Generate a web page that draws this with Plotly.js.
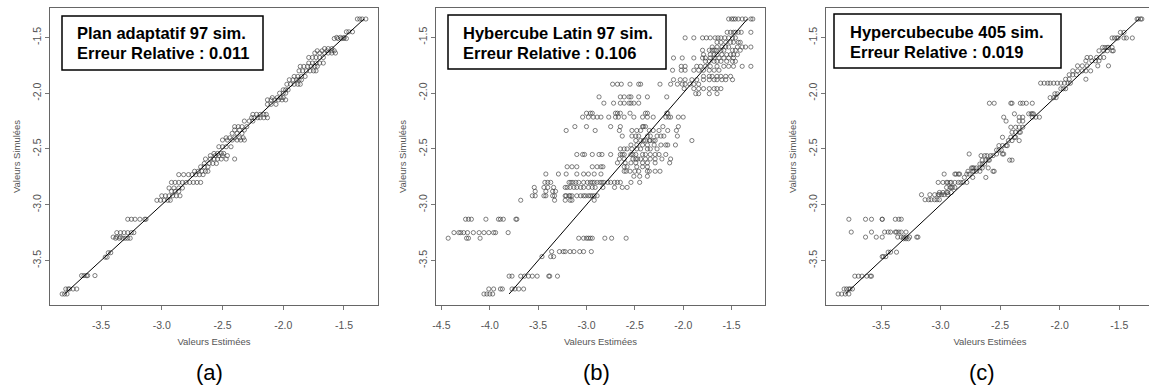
<!DOCTYPE html>
<html><head><meta charset="utf-8">
<script src="https://cdn.plot.ly/plotly-3.0.1.min.js"></script>
<style>html,body{margin:0;padding:0;overflow:hidden;background:#fff}#chart{width:1160px;height:388px}</style>
</head><body><div id="chart"></div>
<script>
// ---------- DATA ----------
// Panel (a): Plan adaptatif 97 sim. — simulated levels and estimated values at each level
const simA = [-3.80,-3.755,-3.635,-3.47,-3.43,-3.30,-3.29,-3.25,-3.13,-2.96,-2.92,-2.88,-2.85,-2.80,-2.73,-2.70,-2.66,-2.63,-2.59,-2.56,-2.54,-2.48,-2.42,-2.40,-2.36,-2.33,-2.30,-2.25,-2.22,-2.19,-2.10,-2.06,-2.04,-2.00,-1.97,-1.92,-1.88,-1.85,-1.80,-1.76,-1.73,-1.68,-1.64,-1.62,-1.60,-1.51,-1.50,-1.45,-1.335];
const estA = [
 [-3.82,-3.80,-3.78],
 [-3.79,-3.77,-3.76,-3.73,-3.70],
 [-3.66,-3.64,-3.62,-3.61,-3.55],
 [-3.465,-3.45],
 [-3.44,-3.42],
 [-3.38,-3.35,-3.32,-3.30,-3.28,-3.26],
 [-3.40,-3.37,-3.34],
 [-3.37,-3.34,-3.31,-3.28,-3.25,-3.23],
 [-3.28,-3.25,-3.22,-3.18,-3.14,-3.13],
 [-3.04,-3.01,-2.98,-2.95,-2.93],
 [-3.00,-2.97,-2.94,-2.91,-2.88,-2.85],
 [-2.92,-2.89,-2.86],
 [-2.94,-2.90,-2.86,-2.83],
 [-2.92,-2.89,-2.86,-2.83,-2.80,-2.77,-2.74,-2.71,-2.68],
 [-2.86,-2.82,-2.78,-2.75,-2.72,-2.69,-2.66],
 [-2.73,-2.70,-2.67,-2.64,-2.62],
 [-2.68,-2.65,-2.62],
 [-2.65,-2.61,-2.58,-2.55],
 [-2.64,-2.60,-2.57,-2.54,-2.51,-2.47,-2.40],
 [-2.60,-2.56,-2.53,-2.50,-2.46],
 [-2.57,-2.54,-2.51,-2.49],
 [-2.53,-2.50,-2.47,-2.43],
 [-2.50,-2.46,-2.42,-2.38,-2.35,-2.32],
 [-2.47,-2.44,-2.40,-2.36,-2.33],
 [-2.42,-2.38,-2.34],
 [-2.40,-2.36,-2.32],
 [-2.40,-2.37,-2.34,-2.30],
 [-2.32,-2.28,-2.25],
 [-2.26,-2.24,-2.21,-2.19,-2.16,-2.13],
 [-2.25,-2.22,-2.19,-2.16,-2.14],
 [-2.13,-2.10,-2.06],
 [-2.13,-2.10,-2.07,-2.04,-2.01,-1.98],
 [-2.09,-2.05,-2.02,-2.00],
 [-2.03,-2.00,-1.98],
 [-2.00,-1.98,-1.96],
 [-1.97,-1.94,-1.91,-1.88,-1.86],
 [-1.95,-1.92,-1.89,-1.87,-1.85],
 [-1.91,-1.88,-1.85,-1.82],
 [-1.87,-1.84,-1.81,-1.78,-1.75,-1.73],
 [-1.86,-1.83,-1.80,-1.77,-1.74,-1.72],
 [-1.79,-1.76,-1.73,-1.70,-1.67],
 [-1.79,-1.76,-1.73,-1.70,-1.67],
 [-1.74,-1.70,-1.66,-1.63,-1.60,-1.57],
 [-1.72,-1.68,-1.64,-1.60,-1.58],
 [-1.66,-1.63,-1.60],
 [-1.58,-1.55,-1.52,-1.50,-1.48],
 [-1.56,-1.53,-1.50],
 [-1.48,-1.46,-1.43],
 [-1.39,-1.37,-1.35,-1.32]
];

// Panel (b): Hybercube Latin 97 sim.
const simB = [-1.336,-1.455,-1.505,-1.545,-1.587,-1.616,-1.655,-1.685,-1.715,-1.76,-1.795,-1.85,-1.88,-1.92,-1.96,-2.005,-2.034,-2.09,-2.18,-2.215,-2.30,-2.335,-2.385,-2.425,-2.465,-2.50,-2.55,-2.59,-2.625,-2.66,-2.70,-2.725,-2.745,-2.80,-2.845,-2.88,-2.92,-2.96,-3.13,-3.25,-3.30,-3.42,-3.465,-3.64,-3.755,-3.80];
const estB = [
 [-1.53,-1.50,-1.48,-1.46,-1.43,-1.39,-1.355,-1.30,-1.28],
 [-1.545,-1.51,-1.48,-1.46,-1.43,-1.40,-1.30],
 [-1.98,-1.89,-1.80,-1.76,-1.72,-1.67,-1.64,-1.61,-1.57,-1.53,-1.49,-1.46],
 [-1.65,-1.61,-1.56,-1.51,-1.48,-1.43,-1.41],
 [-1.70,-1.65,-1.60,-1.56,-1.53,-1.44,-1.39,-1.355,-1.30],
 [-1.80,-1.73,-1.70,-1.68,-1.66,-1.61,-1.58,-1.49,-1.46,-1.41],
 [-1.79,-1.72,-1.68,-1.65,-1.60,-1.55,-1.51,-1.48,-1.44],
 [-2.10,-2.01,-1.89,-1.80,-1.77,-1.72,-1.68,-1.63,-1.58,-1.53,-1.48],
 [-1.77,-1.73,-1.68,-1.65,-1.61,-1.55,-1.49,-1.46],
 [-2.02,-1.98,-1.86,-1.82,-1.77,-1.72,-1.65,-1.58,-1.53,-1.48,-1.39,-1.30],
 [-2.11,-2.02,-1.98,-1.89,-1.84,-1.79,-1.73,-1.68,-1.63],
 [-1.79,-1.73,-1.70,-1.65,-1.61,-1.56,-1.51],
 [-2.10,-2.03,-1.98,-1.91,-1.86,-1.79,-1.73,-1.68,-1.65,-1.60,-1.56,-1.49],
 [-2.73,-2.68,-2.64,-2.55,-2.46,-2.44,-2.24,-2.13,-2.06,-2.01,-1.98,-1.93,-1.89,-1.84],
 [-1.99,-1.89,-1.84,-1.79,-1.73,-1.68,-1.65,-1.61],
 [-1.87,-1.84,-1.73,-1.65],
 [-2.87,-2.65,-2.61,-2.56,-2.54,-2.46,-2.37,-2.17],
 [-2.82,-2.72,-2.65,-2.61,-2.56,-2.54,-2.51,-2.46],
 [-3.00,-2.96,-2.94,-2.70,-2.68,-2.65,-2.55,-2.39,-2.37,-2.17,-2.16],
 [-3.04,-2.98,-2.93,-2.89,-2.85,-2.77,-2.70,-2.67,-2.61,-2.51,-2.42,-2.37,-2.31,-2.18,-2.15,-2.13,-2.05,-2.00],
 [-3.12,-3.00,-2.75,-2.65,-2.42,-2.41,-2.39,-2.21,-2.05],
 [-3.21,-2.91,-2.66,-2.53,-2.48,-2.44,-2.35,-2.31,-2.25,-2.16,-2.07],
 [-2.63,-2.53,-2.49,-2.46,-2.37,-2.34,-2.27,-2.23,-2.20,-2.06],
 [-2.49,-2.44,-2.41,-2.39,-2.35,-2.34,-2.31,-2.29,-1.91],
 [-2.54,-2.48,-2.42,-2.37,-2.30,-2.23,-2.18,-2.16,-2.08],
 [-2.65,-2.61,-2.58,-2.53,-2.48,-2.44,-2.37,-2.34,-2.27],
 [-3.10,-3.04,-3.02,-2.94,-2.87,-2.84,-2.75,-2.65,-2.63,-2.61,-2.54,-2.52,-2.49,-2.42,-2.39,-2.34,-2.29,-2.25,-2.18],
 [-2.66,-2.61,-2.52,-2.49,-2.47,-2.44,-2.39,-2.34,-2.29,-2.22,-2.13],
 [-2.68,-2.60,-2.54,-2.49,-2.42,-2.37,-2.29,-2.14],
 [-3.20,-3.15,-3.10,-2.94,-2.89,-2.85,-2.83,-2.61,-2.58,-2.48,-2.42,-2.37],
 [-2.61,-2.59,-2.55,-2.50,-2.46,-2.37,-2.35,-2.29,-2.24],
 [-3.42,-3.29,-3.21,-3.10,-3.03,-2.98,-2.92,-2.85],
 [-2.51,-2.45,-2.37],
 [-3.43,-3.40,-3.37,-3.18,-3.16,-3.14,-3.11,-3.08,-3.03,-2.99,-2.96,-2.94,-2.92,-2.89,-2.86,-2.84,-2.82,-2.78,-2.75,-2.71,-2.68,-2.65,-2.54,-2.45],
 [-3.54,-3.44,-3.40,-3.34,-3.22,-3.20,-3.17,-3.13,-3.10,-3.06,-3.03,-2.98,-2.94,-2.91,-2.83,-2.71,-2.63,-2.58],
 [-3.53,-3.42,-3.35,-3.32],
 [-3.56,-3.53,-3.44,-3.42,-3.35,-3.33,-3.22,-3.21,-3.18,-3.17,-3.15,-3.10,-3.06,-3.03,-3.01,-2.98,-2.96,-2.94,-2.92,-2.89],
 [-3.68,-3.33,-3.22,-3.17,-3.15,-2.92],
 [-4.25,-4.22,-4.19,-4.04,-3.91,-3.89,-3.86,-3.73,-3.72],
 [-4.37,-4.32,-4.30,-4.27,-4.23,-4.17,-4.11,-4.06,-4.01,-3.96,-3.94,-3.81],
 [-4.43,-4.24,-4.22,-4.10,-3.08,-3.03,-3.00,-2.98,-2.96,-2.94,-2.81,-2.74,-2.59],
 [-3.36,-3.28,-3.24,-3.22,-3.17,-3.13,-3.07,-3.03,-2.95],
 [-3.46,-3.37,-3.34],
 [-3.80,-3.77,-3.68,-3.64,-3.60,-3.56,-3.51,-3.39,-3.38,-3.30],
 [-4.01,-3.96,-3.89,-3.87,-3.77,-3.74,-3.70,-3.65],
 [-4.06,-4.03,-4.00,-3.97]
];

// Panel (c): Hypercubecube 405 sim.
const simC = [-1.335,-1.455,-1.505,-1.59,-1.62,-1.68,-1.71,-1.755,-1.80,-1.835,-1.875,-1.91,-1.96,-2.005,-2.04,-2.09,-2.185,-2.215,-2.25,-2.305,-2.35,-2.395,-2.425,-2.47,-2.51,-2.545,-2.56,-2.60,-2.635,-2.67,-2.70,-2.725,-2.755,-2.80,-2.845,-2.89,-2.91,-2.955,-3.13,-3.245,-3.29,-3.305,-3.425,-3.465,-3.64,-3.755,-3.80];
const estC = [
 [-1.35,-1.34,-1.32,-1.31],
 [-1.49,-1.46],
 [-1.56,-1.54,-1.52,-1.51,-1.46,-1.44,-1.39],
 [-1.64,-1.62,-1.60,-1.59,-1.56],
 [-1.67,-1.63,-1.60,-1.56,-1.55],
 [-1.77,-1.74,-1.69,-1.66,-1.63],
 [-1.78,-1.73,-1.70,-1.67],
 [-1.85,-1.81,-1.77,-1.68,-1.59],
 [-1.89,-1.85,-1.81,-1.78,-1.74],
 [-1.92,-1.89,-1.86],
 [-1.95,-1.92,-1.78],
 [-2.16,-2.13,-2.10,-2.08,-2.05,-2.02,-1.99,-1.96,-1.93,-1.91],
 [-1.99,-1.97,-1.95],
 [-2.04,-2.02],
 [-2.08,-2.05,-2.03],
 [-2.59,-2.55,-2.41,-2.40,-2.33,-2.31,-2.28,-2.23],
 [-2.38,-2.26,-2.24,-2.23,-2.22],
 [-2.47,-2.34,-2.31,-2.23,-2.20,-2.17],
 [-2.45,-2.34,-2.31],
 [-2.41,-2.37,-2.34,-2.31],
 [-2.40,-2.37,-2.34,-2.33],
 [-2.48,-2.41,-2.38,-2.37],
 [-2.43,-2.40,-2.34],
 [-2.51,-2.48,-2.45,-2.44],
 [-2.53,-2.51,-2.49],
 [-2.76,-2.53,-2.48,-2.47],
 [-2.66,-2.63,-2.61,-2.58,-2.56],
 [-2.65,-2.62,-2.60,-2.59,-2.42,-2.40],
 [-2.67,-2.65,-2.63],
 [-2.74,-2.73,-2.72,-2.70,-2.67,-2.65,-2.60],
 [-2.77,-2.73,-2.72,-2.70,-2.67,-2.56,-2.55],
 [-2.97,-2.88,-2.87,-2.85,-2.84,-2.78,-2.76],
 [-2.80,-2.73,-2.62],
 [-3.02,-2.98,-2.95,-2.94,-2.92,-2.91,-2.88,-2.85,-2.83,-2.81,-2.78],
 [-2.95,-2.92,-2.91,-2.90,-2.88],
 [-3.01,-2.98,-2.95,-2.94,-2.91],
 [-3.16,-3.09,-3.05,-3.02,-3.01,-2.99,-2.97,-2.94],
 [-3.13,-3.10,-3.08,-3.05,-3.03,-3.01],
 [-3.77,-3.63,-3.58,-3.49,-3.49,-3.38,-3.35,-3.33],
 [-3.75,-3.58,-3.47,-3.44,-3.42,-3.38,-3.37,-3.35,-3.33,-3.29],
 [-3.63,-3.54,-3.49,-3.36,-3.33,-3.31,-3.29,-3.26,-3.20,-3.19],
 [-3.31,-3.29,-3.27],
 [-3.44,-3.42,-3.37],
 [-3.49,-3.48,-3.46],
 [-3.72,-3.69,-3.66,-3.62,-3.59,-3.58],
 [-3.81,-3.79,-3.77,-3.76,-3.74],
 [-3.86,-3.83,-3.80,-3.77]
];

const ticksA = [-3.5,-3.0,-2.5,-2.0,-1.5];
const ticksB = [-4.5,-4.0,-3.5,-3.0,-2.5,-2.0,-1.5];
const ticksC = [-3.5,-3.0,-2.5,-2.0,-1.5];
const ticksY = [-3.5,-3.0,-2.5,-2.0,-1.5];

const boxLine1 = ['Plan adaptatif 97 sim.','Hybercube Latin 97 sim.','Hypercubecube 405 sim.'];
const boxLine2 = ['Erreur Relative : 0.011','Erreur Relative : 0.106','Erreur Relative : 0.019'];
const panelLabels = ['(a)','(b)','(c)'];
const xTitle = 'Valeurs Estimées';
const yTitle = 'Valeurs Simulées';

// ---------- BUILD ----------
const W = 1160, H = 388;
function flatten(sim, est){
  const x=[], y=[];
  sim.forEach((s,i)=>est[i].forEach(v=>{x.push(v);y.push(s);}));
  return {x,y};
}
function rng(arr){ const mn=Math.min(...arr), mx=Math.max(...arr), p=0.04*(mx-mn); return [mn-p, mx+p]; }

const panels = [
  {sim:simA, est:estA, ticks:ticksA, px:[50,378], box:[62,263,16,70], tx:75, ty:[33.3,53.3], lab:209},
  {sim:simB, est:estB, ticks:ticksB, px:[436,765], box:[448,666,15,69], tx:461, ty:[33.3,52.7], lab:596},
  {sim:simC, est:estC, ticks:ticksC, px:[826,1154], box:[834,1061,14,68], tx:848, ty:[31.7,51.7], lab:982}
];
const yDom = [(H-305)/H, (H-8)/H];
const FONT = 'Liberation Sans, Arial, sans-serif';
const traces = [], layout = {
  width: W, height: H, margin:{l:0,r:0,t:0,b:0}, showlegend:false,
  paper_bgcolor:'#fff', plot_bgcolor:'#fff', font:{family:FONT},
  shapes:[], annotations:[]
};
panels.forEach((p,i)=>{
  const n = i===0 ? '' : String(i+1);
  const d = flatten(p.sim, p.est);
  const lo = Math.min(...p.sim), hi = Math.max(...p.sim);
  traces.push({type:'scatter', mode:'markers', x:d.x, y:d.y, xaxis:'x'+n, yaxis:'y'+n,
    marker:{symbol:'circle-open', size:4.2, color:'rgba(60,60,60,0.72)', line:{width:0.9}}, hoverinfo:'skip'});
  traces.push({type:'scatter', mode:'lines', x:[lo,hi], y:[lo,hi], xaxis:'x'+n, yaxis:'y'+n,
    line:{color:'#000', width:1}, hoverinfo:'skip'});
  const common = {showgrid:false, zeroline:false, showline:true, mirror:true, linecolor:'#666', linewidth:1,
    ticks:'outside', ticklen:4, tickcolor:'#777', tickwidth:1, tickfont:{size:10.5, color:'#555', family:FONT}};
  layout['xaxis'+n] = Object.assign({}, common, {domain:[p.px[0]/W, p.px[1]/W], anchor:'y'+n,
    range:rng(d.x), tickmode:'array', tickvals:p.ticks, ticktext:p.ticks.map(v=>v.toFixed(1)),
    ticklabelstandoff:6,
    title:{text:xTitle, font:{size:9.5, color:'#555', family:FONT}, standoff:8}});
  layout['yaxis'+n] = Object.assign({}, common, {domain:yDom, anchor:'x'+n,
    range:rng(d.y), tickmode:'array', tickvals:ticksY, ticktext:ticksY.map(v=>v.toFixed(1)), tickangle:-90,
    title:{text:yTitle, font:{size:9.5, color:'#555', family:FONT}, standoff:8}});
  layout.shapes.push({type:'rect', xref:'paper', yref:'paper', x0:p.box[0]/W, x1:p.box[1]/W,
    y0:1-p.box[3]/H, y1:1-p.box[2]/H, line:{color:'#000', width:1.5}, fillcolor:'#fff'});
  [boxLine1[i], boxLine2[i]].forEach((t,k)=>layout.annotations.push({xref:'paper', yref:'paper',
    x:p.tx/W, y:1-p.ty[k]/H, xanchor:'left', yanchor:'middle', showarrow:false, text:'<b>'+t+'</b>',
    font:{size:16.5, color:'#000', family:FONT}}));
  layout.annotations.push({xref:'paper', yref:'paper', x:p.lab/W, y:1-372/H, xanchor:'center', yanchor:'middle',
    showarrow:false, text:panelLabels[i], font:{size:22, color:'#000', family:FONT}});
});
Plotly.newPlot('chart', traces, layout, {staticPlot:true});
</script></body></html>
